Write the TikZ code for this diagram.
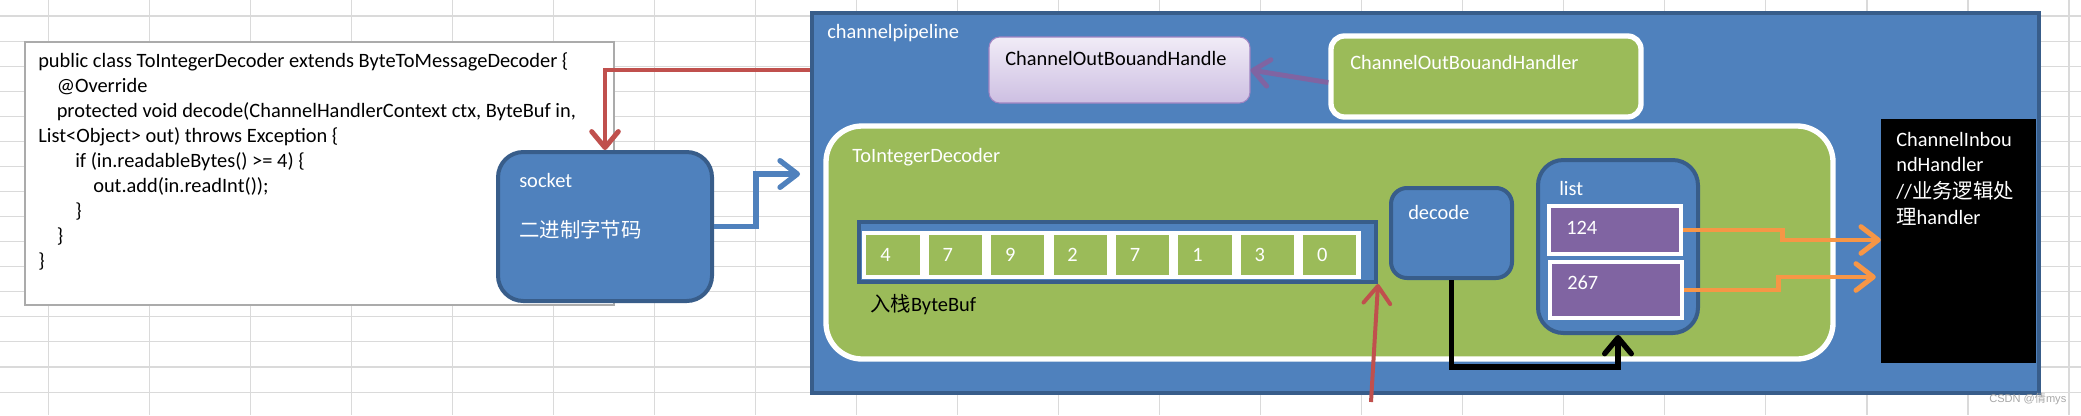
\documentclass[tikz,border=0pt]{standalone}
\usepackage{fontspec}
\setmainfont{Carlito}
\newfontfamily\cjk{Noto Sans CJK SC}
\newfontfamily\wmfont{Liberation Sans}
\usetikzlibrary{arrows.meta,fit,calc}
\definecolor{fillblue}{HTML}{4F81BD}
\definecolor{edgeblue}{HTML}{385D8A}
\definecolor{okgreen}{HTML}{9BBB59}
\definecolor{vpurple}{HTML}{8064A2}
\definecolor{vred}{HTML}{C0504D}
\definecolor{vorange}{HTML}{F79646}
\definecolor{gridgray}{HTML}{DADADA}
\definecolor{codeedge}{HTML}{ABABAB}
\definecolor{lavtop}{HTML}{F1ECF7}
\definecolor{lavbot}{HTML}{CDBFE2}
\definecolor{lavedge}{HTML}{9F84C2}
\definecolor{wmgray}{HTML}{A8A8A8}
\begin{document}
\begin{tikzpicture}[x=0.75pt,y=-0.75pt,
  area/.style={fit={#1}, inner sep=0pt},
  bluebox/.style={fill=fillblue, draw=edgeblue, line width=3pt},
  greenbox/.style={fill=okgreen, draw=white, line width=4pt},
  cellg/.style={fill=okgreen, draw=white, line width=3.5pt},
  cellp/.style={fill=vpurple, draw=white, line width=3.5pt},
  txt/.style={inner sep=0pt, anchor=west, font=\fontsize{15.3}{18.8}\selectfont},
  wtxt/.style={txt, text=white},
  btxt/.style={txt, text=black},
  gridline/.style={draw=gridgray, line width=0.8pt},
  tip/.style={-{Straight Barb[length=#1, width=20pt, round]}},
  tip/.default=12pt,
  conn/.style={line width=3.7pt, line join=miter}
]
\useasboundingbox (0,0) rectangle (2081,415);
\fill[white] (0,0) rectangle (2081,415);
% spreadsheet grid
\foreach \k in {0,...,20} \draw[gridline] ({48.6+101.02*\k},0) -- ({48.6+101.02*\k},415);
\foreach \k in {0,...,15} \draw[gridline] (0,{16+25.07*\k}) -- (2081,{16+25.07*\k});

% code box
\node[area={(25,42) (614,305)}, fill=white, draw=codeedge, line width=1pt] (code) {};
\node[btxt, anchor=base west] (l1) at (38,67) {public class ToIntegerDecoder extends ByteToMessageDecoder \{};
\node[btxt, anchor=base west] (l2) at (56.5,92) {@Override};
\node[btxt, anchor=base west] (l3) at (56.5,117) {protected void decode(ChannelHandlerContext ctx, ByteBuf in,};
\node[btxt, anchor=base west] (l4) at (38,142) {List<Object> out) throws Exception \{};
\node[btxt, anchor=base west] (l5) at (75,167) {if (in.readableBytes() >= 4) \{};
\node[btxt, anchor=base west] (l6) at (93,192) {out.add(in.readInt());};
\node[btxt, anchor=base west] (l7) at (75,217) {\}};
\node[btxt, anchor=base west] (l8) at (56.5,242) {\}};
\node[btxt, anchor=base west] (l9) at (38,267) {\}};

% socket
\node[area={(498,152) (712,301)}, bluebox, rounded corners=19pt] (socket) {};
\node[wtxt] (socketlbl) at (519,180) {socket};
\node[wtxt] (bytes) at (519,230) {\cjk 二进制字节码};

% pipeline
\node[area={(812,13) (2039,393)}, bluebox] (pipe) {};
\node[wtxt] (pipelbl) at (827,33) {channelpipeline};

% outbound handlers
\node[area={(989,37) (1250,103)}, rounded corners=8pt, top color=lavtop, bottom color=lavbot, draw=lavedge, line width=0.8pt] (outh) {};
\node[btxt] (outhlbl) at (1005,58) {ChannelOutBouandHandle};
\node[area={(1331,36) (1641,117)}, greenbox, rounded corners=10pt] (outr) {};
\node[wtxt] (outrlbl) at (1350,62) {ChannelOutBouandHandler};

% decoder
\node[area={(826,126) (1833,359)}, greenbox, rounded corners=27pt] (dec) {};
\node[wtxt] (declbl) at (852,157) {ToIntegerDecoder};

% bytebuf
\node[area={(859,222) (1376,282)}, fill=fillblue, draw=edgeblue, line width=3pt] (buf) {};
\foreach \v [count=\i from 0] in {4,7,9,2,7,1,3,0} {
  \node[area={({864+62.4*\i},233) ({922+62.4*\i},277)}, cellg] (cell\i) {};
  \node[wtxt] (digit\i) at ({880+62.4*\i},255) {\v};
}
\node[btxt] (buflbl) at (870,305) {{\cjk 入栈}ByteBuf};

% decode
\node[area={(1391,188) (1512,278)}, bluebox, rounded corners=12pt] (decode) {};
\node[wtxt] (decodelbl) at (1408,212) {decode};

% list
\node[area={(1538,160) (1698,333)}, bluebox, rounded corners=19pt] (list) {};
\node[wtxt] (listlbl) at (1559,188) {list};
\node[area={(1549,206) (1681,254)}, cellp] (c124) {};
\node[wtxt] (v124) at (1566,228) {124};
\node[area={(1550,262) (1682,318)}, cellp] (c267) {};
\node[wtxt] (v267) at (1567,283) {267};

% inbound handler
\node[area={(1881,119) (2036,363)}, fill=black] (inb) {};
\node[wtxt] (inb1) at (1896,139) {ChannelInbou};
\node[wtxt] (inb2) at (1896,164) {ndHandler};
\node[wtxt] (inb3) at (1896,191) {//{\cjk 业务逻辑处}};
\node[wtxt] (inb4) at (1896,217) {{\cjk 理}handler};

% watermark
\node[inner sep=0pt, anchor=west, text=wmgray, font=\wmfont\fontsize{8.3}{10}\selectfont] (wm) at (1989,399) {CSDN @{\cjk 倩}mys};

% connectors
\draw[conn, vred, tip] ($(pipe.north west)+(0,59)$) -| (socket.north);
\coordinate (bluetip) at (800,174);
\draw[conn, fillblue, line width=4pt, tip=13pt] (socket.east) -| ($(bluetip)+(-44,0)$) -- (bluetip);
\draw[conn, vpurple, tip] ($(outr.west)+(0,6)$) -- (outh.east);
\draw[conn, black, line width=4pt, tip] (decode.south) |- ($(list.south)+(0,32)$) -- (list.south);
\coordinate (redfoot) at (1371,402);
\draw[conn, vred, line width=3pt, tip=13pt] (redfoot) -- (buf.south east);
\draw[conn, vorange, tip=13pt] (c124.east) -| ($(inb.west)+(-98,-1)$) -- ($(inb.west)+(0,-1)$);
\draw[conn, vorange, tip=13pt] (c267.east) -| ($(inb.west)+(-102,36)$) -- ($(inb.west)+(-5,36)$);
\end{tikzpicture}
\end{document}
